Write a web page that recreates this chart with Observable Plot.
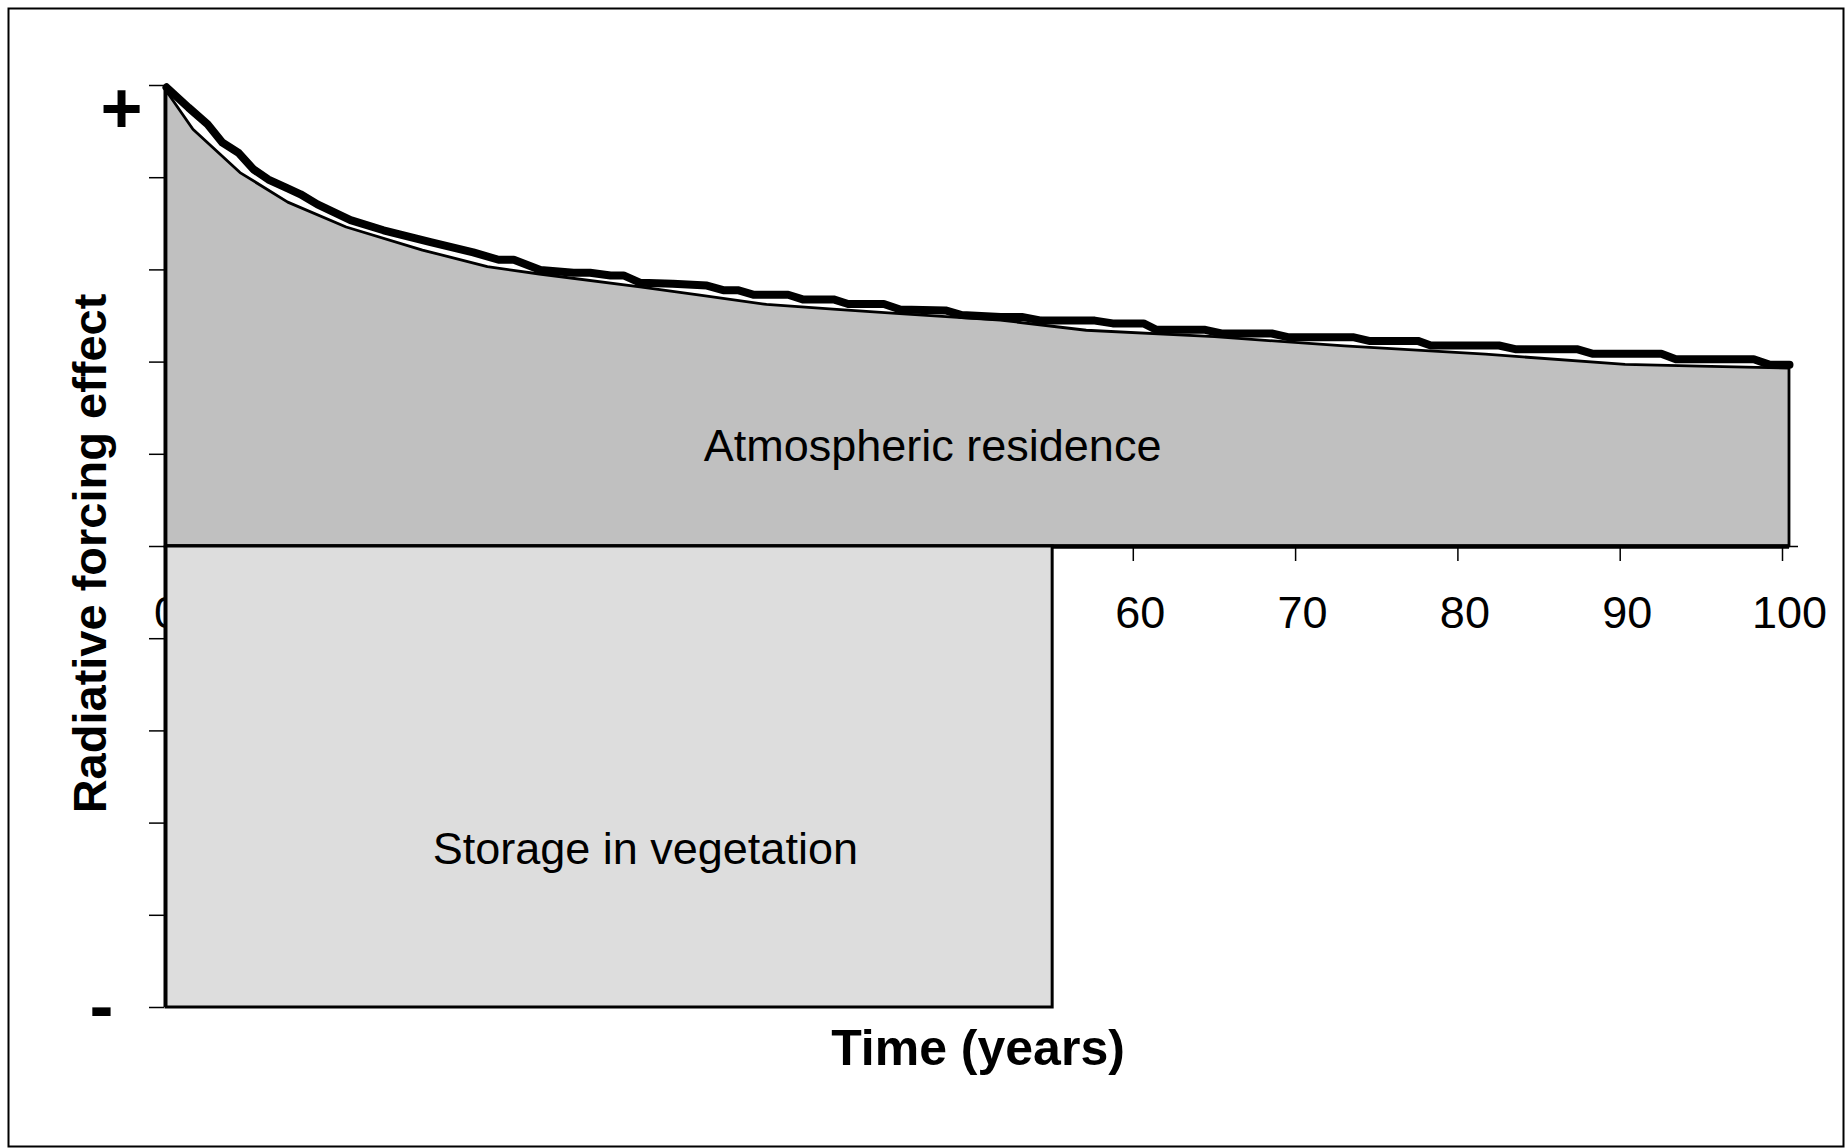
<!DOCTYPE html>
<html><head><meta charset="utf-8">
<script src="https://cdn.jsdelivr.net/npm/d3@7"></script>
<script src="https://cdn.jsdelivr.net/npm/@observablehq/plot@0.6"></script>
<style>
html,body{margin:0;padding:0;background:#fff;}
#chart{width:1845px;height:1148px;}
</style></head><body><div id="chart"></div>
<script>
// Atmospheric residence: smooth decay curve (area boundary)
const smoothYears  = [0, 1.66, 4.56, 7.5, 11.1, 15.8, 19.8, 23, 29.2, 32.9, 37, 41.1, 45.2, 51.4, 56.7, 64.6, 72.6, 81.3, 89.9, 94.5, 100];
const smoothValues = [4.94, 4.52, 4.05, 3.73, 3.46, 3.21, 3.03, 2.95, 2.81, 2.72, 2.62, 2.57, 2.52, 2.45, 2.34, 2.27, 2.17, 2.08, 1.97, 1.95, 1.93];
// Stepped (rounded) curve drawn as thick line
const stepYears  = [0, 1.36, 2.53, 3.45, 4.44, 5.36, 6.28, 7.4, 8.26, 9.3, 11.34, 13.37, 16.27, 18.9, 20.46, 21.4, 23.04, 25.08, 26.1, 27.36, 28.16, 29.2, 31.2, 33.3, 34.3, 35.2, 36.2, 38.3, 39.2, 41.1, 42.0, 44.2, 45.2, 48.0, 49.0, 51.4, 52.7, 53.9, 57.2, 58.3, 60.2, 61.0, 64.0, 65.0, 68.1, 69.1, 73.1, 74.1, 77.1, 77.9, 82.1, 83.1, 86.9, 87.9, 92.1, 93.0, 97.8, 98.8, 100];
const stepValues = [4.98, 4.76, 4.58, 4.38, 4.27, 4.09, 3.98, 3.89, 3.82, 3.71, 3.54, 3.43, 3.30, 3.19, 3.11, 3.11, 3.00, 2.97, 2.97, 2.94, 2.94, 2.86, 2.85, 2.83, 2.78, 2.78, 2.73, 2.73, 2.68, 2.68, 2.63, 2.63, 2.57, 2.56, 2.51, 2.49, 2.49, 2.45, 2.45, 2.42, 2.42, 2.35, 2.35, 2.31, 2.31, 2.27, 2.27, 2.23, 2.23, 2.18, 2.18, 2.14, 2.14, 2.09, 2.09, 2.03, 2.03, 1.97, 1.97];
// Storage in vegetation block
const storageStart = 0, storageEnd = 54.6, storageDepth = -5;
// Axis ticks / labels
const xTickLabels = [0, 10, 20, 30, 40, 50, 60, 70, 80, 90, 100];
const yTicks = [-5, -4, -3, -2, -1, 0, 1, 2, 3, 4, 5];
const signLabels = ["+", "-"];
const signValues = [5, -5];
const regionTexts = ["Atmospheric residence", "Storage in vegetation"];
const regionX = [47.2, 29.5];
const regionY = [1.08, -3.29];
const xTitle = "Time (years)";
const yTitle = "Radiative forcing effect";

const smooth = smoothYears.map((x, i) => ({x, y: smoothValues[i]}));
const stepped = stepYears.map((x, i) => ({x, y: stepValues[i]}));
const storage = [{x1: storageStart, x2: storageEnd, y1: storageDepth, y2: 0}];
const regions = regionTexts.map((t, i) => ({t, x: regionX[i], y: regionY[i]}));

const font = "'Liberation Sans', Arial, Helvetica, sans-serif";
const chart = Plot.plot({
  width: 1845, height: 1148,
  marginLeft: 166, marginRight: 56, marginTop: 85, marginBottom: 141,
  x: {domain: [0, 100], axis: null},
  y: {domain: [-5, 5], axis: null},
  style: {fontFamily: font, background: "#fff", color: "#000"},
  marks: [
    Plot.frame({insetLeft: -158, insetTop: -77, insetRight: -54, insetBottom: -139, stroke: "black", strokeWidth: 2}),
    // y ticks and axis line
    Plot.ruleY(yTicks, {y: d => d, x1: 0, x2: 0, insetLeft: -15, dx: -2, strokeWidth: 1.5}),
    Plot.ruleX([0], {y1: d3.min(yTicks), y2: d3.max(yTicks), dx: -2, strokeWidth: 2}),
    // x ticks, labels and axis line
    Plot.ruleX(xTickLabels.filter(v => v > 0), {x: d => d, y1: 0, y2: 0, insetBottom: -15, dx: -7, strokeWidth: 1.5}),
    Plot.text(xTickLabels, {x: d => d, y: 0, text: d => String(d), dy: 67, fontSize: 45}),
    Plot.ruleY([0], {insetLeft: -3, insetRight: -9, strokeWidth: 1.5}),
    // atmospheric residence area
    Plot.areaY(smooth, {x: "x", y: "y", fill: "#c0c0c0", stroke: "black", strokeWidth: 2.8, strokeLinejoin: "round"}),
    Plot.ruleY([0], {strokeWidth: 4.5}),
    // storage block
    Plot.rect(storage, {x1: "x1", x2: "x2", y1: "y1", y2: "y2", fill: "#dddddd", stroke: "black", strokeWidth: 3}),
    // stepped thick line
    Plot.line(stepped, {x: "x", y: "y", stroke: "black", strokeWidth: 8, strokeLinejoin: "round", strokeLinecap: "round"}),
    // region labels
    Plot.text(regions, {x: "x", y: "y", text: "t", fontSize: 45}),
    // +/- signs
    Plot.text([signLabels[0]], {frameAnchor: "left", textAnchor: "middle", lineAnchor: "middle", y: () => signValues[0], dx: -45, dy: 24, fontSize: 72, fontWeight: "bold"}),
    Plot.text([signLabels[1]], {frameAnchor: "left", textAnchor: "middle", lineAnchor: "middle", y: () => signValues[1], dx: -65, dy: -1, fontSize: 72, fontWeight: "bold"}),
    // titles
    Plot.text([yTitle], {frameAnchor: "left", textAnchor: "middle", lineAnchor: "middle", rotate: -90, dx: -76, dy: 7, fontSize: 47, fontWeight: "bold"}),
    Plot.text([xTitle], {frameAnchor: "bottom", textAnchor: "middle", lineAnchor: "middle", dy: 41, fontSize: 50, fontWeight: "bold"})
  ]
});
document.getElementById("chart").appendChild(chart);
</script>
</body></html>
